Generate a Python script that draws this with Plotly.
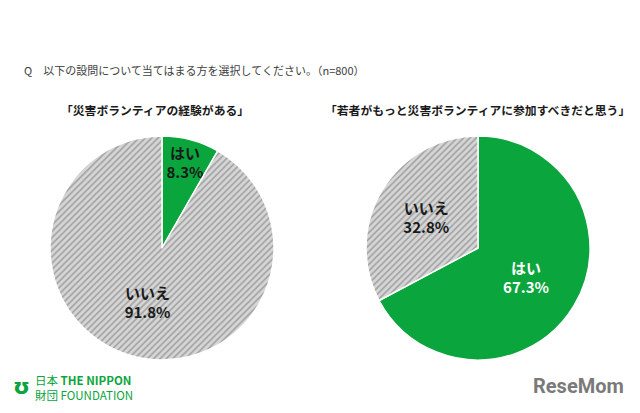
import plotly.graph_objects as go

labels = ["はい", "いいえ"]
experience = [8.3, 91.8]       # 「災害ボランティアの経験がある」
should_join = [67.3, 32.8]     # 「若者がもっと災害ボランティアに参加すべきだと思う」

question = "Q　以下の設問について当てはまる方を選択してください。（n=800）"
titles = ["「災害ボランティアの経験がある」",
          "「若者がもっと災害ボランティアに参加すべきだと思う」"]

GREEN = "#0aa53c"
JP_FONT = "Noto Sans CJK JP"

# the page adds an 8px body margin, so the figure is drawn 8px smaller
W, H, OFF = 632, 405, 8


def px(x):
    return (x - OFF) / W


def py(y):
    return 1 - (y - OFF) / H


def make_pie(values, domain, text_colors):
    return go.Pie(
        labels=labels,
        values=values,
        sort=False,
        direction="clockwise",
        rotation=0,
        domain=domain,
        marker=dict(colors=[GREEN, "#d6d6d6"],
                    line=dict(color="white", width=1.5),
                    # green slice solid, gray slice hatched
                    pattern=dict(shape=["", "/"], bgcolor=[GREEN, "#d6d6d6"],
                                 fgcolor=[GREEN, "#a0a0a0"], size=4.5, solidity=0.35)),
        texttemplate="%{label}<br>%{value:.1f}%",
        textposition="inside",
        insidetextorientation="horizontal",
        insidetextfont=dict(family=JP_FONT, size=15, color=text_colors, weight="bold"),
        hoverinfo="label+percent",
        showlegend=False,
    )


fig = go.Figure()

fig.add_trace(make_pie(experience,
                       dict(x=[px(50), px(274)], y=[py(360), py(136)]),
                       ["#1a1a1a", "#1a1a1a"]))
fig.add_trace(make_pie(should_join,
                       dict(x=[px(366), px(590)], y=[py(360), py(136)]),
                       ["white", "#1a1a1a"]))

# question line and chart titles
fig.add_annotation(text=question, x=px(22), y=py(70), xref="paper", yref="paper",
                   xanchor="left", yanchor="middle", showarrow=False,
                   font=dict(family=JP_FONT, size=11, color="#404040"))
fig.add_annotation(text=titles[0], x=px(155), y=py(110), xref="paper", yref="paper",
                   xanchor="center", yanchor="middle", showarrow=False,
                   font=dict(family=JP_FONT, size=11.8, color="#1a1a1a", weight="bold"))
fig.add_annotation(text=titles[1], x=px(477), y=py(110), xref="paper", yref="paper",
                   xanchor="center", yanchor="middle", showarrow=False,
                   font=dict(family=JP_FONT, size=11.8, color="#1a1a1a", weight="bold"))

# footer logos
fig.add_annotation(text="日本 <b>THE NIPPON</b><br>財団 FOUNDATION", x=px(33), y=py(387),
                   xref="paper", yref="paper", xanchor="left", yanchor="middle",
                   showarrow=False, align="left",
                   font=dict(family=JP_FONT, size=11.5, color=GREEN))
fig.add_annotation(text="<b>ʊ</b>", x=px(21), y=py(386), xref="paper", yref="paper",
                   xanchor="center", yanchor="middle", showarrow=False,
                   font=dict(family="DejaVu Sans", size=22, color=GREEN))
fig.add_annotation(text="<b>ReseMom</b>", x=px(626), y=py(386), xref="paper", yref="paper",
                   xanchor="right", yanchor="middle", showarrow=False,
                   font=dict(family="Roboto", size=20, color="#7a7a7a"))

fig.update_layout(
    width=W, height=H,
    margin=dict(l=0, r=0, t=0, b=0),
    paper_bgcolor="white",
    plot_bgcolor="white",
    uniformtext=dict(minsize=15, mode="show"),
)

fig.write_html("out.html")
